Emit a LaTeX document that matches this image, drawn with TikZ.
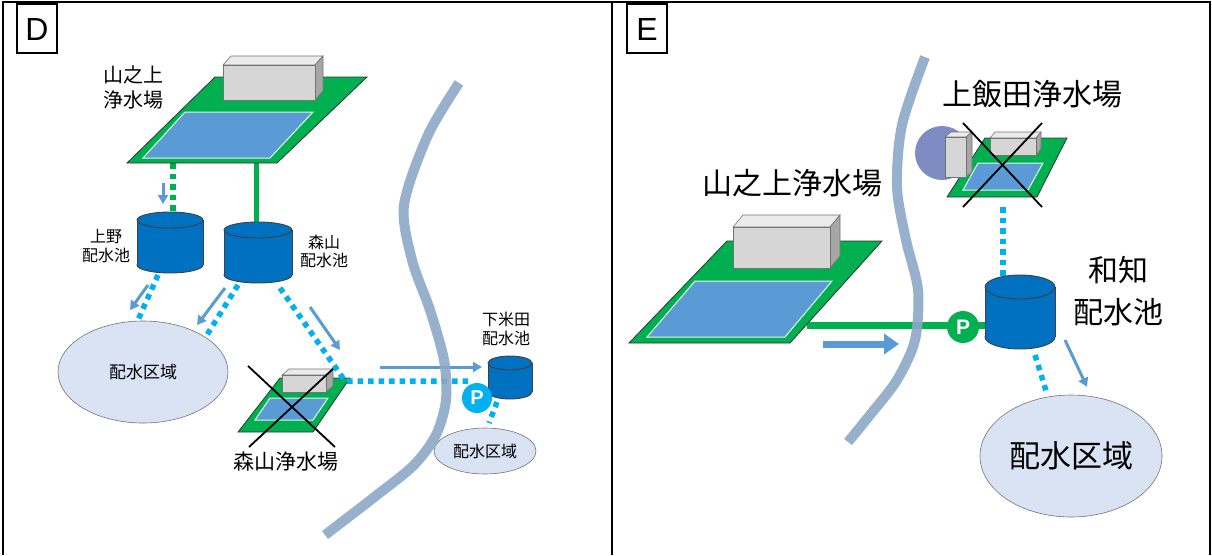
\documentclass[tikz,border=0pt]{standalone}
\usepackage{fontspec}
\setmainfont{Liberation Sans}
\newfontfamily\jp{Noto Sans CJK JP}
\usetikzlibrary{arrows.meta,shapes.geometric}

\definecolor{plantgreen}{RGB}{0,176,80}
\definecolor{poolblue}{RGB}{91,155,213}
\definecolor{tankblue}{RGB}{0,112,192}
\definecolor{pipecyan}{RGB}{0,176,240}
\definecolor{flowblue}{RGB}{91,155,213}
\definecolor{areafill}{RGB}{218,227,243}
\definecolor{river}{RGB}{140,168,200}
\definecolor{hillblue}{RGB}{125,140,195}

\tikzset{
  frameline/.style={line width=2pt},
  tagbox/.style={line width=1.2pt},
  plantedge/.style={draw=black!80, line width=0.8pt, fill=plantgreen},
  pooledge/.style={draw=green!15, line width=1pt, fill=poolblue},
  boxline/.style={draw=black!55, line width=0.6pt},
  tankline/.style={draw=black!75, line width=0.9pt, fill=tankblue},
  pipe/.style={pipecyan, line width=5.5pt, dash pattern=on 5.5pt off 5pt},
  gpipe/.style={plantgreen, line width=5.5pt, dash pattern=on 5.5pt off 5pt},
  main/.style={plantgreen, line width=5pt},
  flow/.style={flowblue, line width=3pt, -{Triangle[length=9pt,width=10pt]}},
  bigflow/.style={flowblue, line width=7pt, -{Triangle[length=15pt,width=20pt]}},
  area/.style={ellipse, draw=black!55, line width=0.6pt, fill=areafill, inner sep=0pt},
  cross/.style={line width=1.8pt, black},
  stream/.style={river, line width=10pt, opacity=.9},
  pump/.style={circle, inner sep=0pt, text=white, font=\bfseries},
  lbl/.style={align=center, inner sep=0pt},
}

% tank: (centre x, top y)(rx : ry : height)
\def\tank(#1,#2)(#3:#4:#5){%
  \draw[tankline] (#1,#2+#5) ellipse (#3 and #4);
  \fill[tankblue] (#1-#3,#2) rectangle (#1+#3,#2+#5);
  \draw[tankline] (#1-#3,#2) -- (#1-#3,#2+#5) (#1+#3,#2) -- (#1+#3,#2+#5);
  \draw[tankline] (#1,#2) ellipse (#3 and #4);
}
% building: (front left, front top)(front right, front bottom)(depth x, depth up)
\def\housing(#1,#2)(#3,#4)(#5,#6){%
  \draw[boxline, fill=black!8] (#1,#2) -- (#1+#5,#2-#6) -- (#3+#5,#2-#6) -- (#3,#2) -- cycle;
  \draw[boxline, fill=black!35] (#3,#2) -- (#3+#5,#2-#6) -- (#3+#5,#4-#6) -- (#3,#4) -- cycle;
  \draw[boxline, fill=black!16] (#1,#2) rectangle (#3,#4);
}

\begin{document}
\begin{tikzpicture}[x=1pt,y=-1pt]
  \useasboundingbox (0,0) rectangle (1212,555);

  %%%%% FRAME %%%%%
  \draw[frameline] (3,555) -- (3,2) -- (1210,2) -- (1210,555);
  \draw[frameline] (612,2) -- (612,555);
  \draw[tagbox] (17,4) rectangle (57,53);
  \node[font=\fontsize{32}{32}\selectfont] (tagD) at (37,29) {D};
  \draw[tagbox] (627,4) rectangle (667,53);
  \node[font=\fontsize{32}{32}\selectfont] (tagE) at (647,29) {E};

  %%%%% D %%%%%
  \coordinate (yamaD) at (173,163);
  \coordinate (yamaDb) at (256,163);
  \coordinate (uenoTop) at (173,212);
  \coordinate (moriTop) at (256,225);
  \coordinate (uenoBot) at (158,275);
  \coordinate (moriBotL) at (238,285);
  \coordinate (moriBotR) at (280,288);
  \coordinate (bend) at (345,381);
  \coordinate (areaLa) at (138,320);
  \coordinate (areaLb) at (205,338);
  \coordinate (areaRa) at (489,423);

  \draw[gpipe] (yamaD) -- (uenoTop);
  \draw[main] (yamaDb) -- (moriTop);

  % yamanoue plant
  \draw[plantedge] (127,163) -- (277,163) -- (367,77) -- (215,77) -- cycle;
  \draw[pooledge] (143,158) -- (270,158) -- (313,112) -- (185,112) -- cycle;
  \housing(223,65)(315,100)(8,9)
  \node[lbl, font=\jp\fontsize{20}{25}\selectfont] (yamaDlbl) at (133,87) {山之上\\浄水場};

  % reservoirs
  \tank(170,220)(33:8:45)
  \tank(258,230)(34:8:45)
  \node[lbl, font=\jp\fontsize{16}{19}\selectfont] (uenoLbl) at (106,246) {上野\\配水池};
  \node[lbl, font=\jp\fontsize{16}{18}\selectfont] (moriLbl) at (324,251) {森山\\配水池};

  % areas
  \node[area, minimum width=170pt, minimum height=102pt, font=\jp\fontsize{17}{17}\selectfont] (areaL) at (143,372) {配水区域};
  \node[area, minimum width=102pt, minimum height=46pt, font=\jp\fontsize{16}{16}\selectfont] (areaR) at (485,451) {配水区域};

  % moriyama plant (closed)
  \draw[plantedge] (238,432) -- (313,432) -- (350,378) -- (280,378) -- cycle;
  \draw[pooledge] (255,420) -- (313,420) -- (328,398) -- (270,398) -- cycle;
  \housing(282,375)(326,392)(7,6)
  \draw[cross] (248,366) -- (335,447);
  \draw[cross] (335,367) -- (249,447);
  \node[lbl, font=\jp\fontsize{21}{21}\selectfont] (moriPlant) at (286,462) {森山浄水場};

  % shimoyoneda
  \tank(510,363)(22:7:29)
  \node[lbl, font=\jp\fontsize{16}{18.5}\selectfont] (shimoLbl) at (506,329) {下米田\\配水池};

  \draw[pipe] (uenoBot) -- (areaLa);
  \draw[pipe] (moriBotL) -- (areaLb);
  \draw[pipe] (moriBotR) -- (bend) -- (470,381);
  \draw[pipe] (497,402) -- (areaRa);
  \node[pump, fill=pipecyan, minimum size=30pt, font=\fontsize{20}{20}\selectfont\bfseries] (pD) at (477,398) {P};

  \draw[flow] (163,183) -- (163,204);
  \draw[flow] (148,285) -- (130,310);
  \draw[flow] (225,288) -- (197,325);
  \draw[flow] (310,307) -- (340,350);
  \draw[flow] (380,367) -- (482,367);

  % river
  \draw[stream] plot[smooth] coordinates {(459,83) (428,135) (404,205) (412,260) (430,310) (444,360) (446,400) (436,435) (414,465) (377,495) (325,535)};

  %%%%% E %%%%%
  % kami-iida plant (closed)
  \fill[hillblue] (942,153) circle (27);
  \draw[plantedge] (947,197) -- (1037,197) -- (1067,138) -- (985,138) -- cycle;
  \draw[pooledge] (963,190) -- (1028,190) -- (1043,163) -- (978,163) -- cycle;
  \housing(990,138)(1036,155)(5,6)
  \housing(945,137)(966,177)(6,5)
  \draw[cross] (963,123) -- (1042,207);
  \draw[cross] (1042,123) -- (963,207);
  \node[lbl, font=\jp\fontsize{30}{30}\selectfont] (iidaLbl) at (1032,94) {上飯田浄水場};

  % yamanoue plant
  \coordinate (yamaE) at (807,325);
  \coordinate (wachiL) at (986,325);
  \draw[main, line width=7pt] (yamaE) -- (wachiL);
  \draw[plantedge] (629,343) -- (790,343) -- (882,241) -- (727,241) -- cycle;
  \draw[pooledge] (647,337) -- (785,337) -- (832,281) -- (695,281) -- cycle;
  \housing(733,227)(830,268)(10,12)
  \node[lbl, font=\jp\fontsize{30}{30}\selectfont] (yamaElbl) at (792,183) {山之上浄水場};

  % wachi reservoir
  \coordinate (iidaBot) at (1003,207);
  \coordinate (wachiTop) at (1003,278);
  \draw[pipe] (iidaBot) -- (wachiTop);
  \tank(1020,287)(35:12:50)
  \node[lbl, font=\jp\fontsize{30}{42}\selectfont] (wachiLbl) at (1118,291) {和知\\配水池};
  \node[pump, fill=plantgreen, minimum size=32pt, font=\fontsize{21}{21}\selectfont\bfseries] (pE) at (963,327) {P};

  \node[area, minimum width=182pt, minimum height=122pt, font=\jp\fontsize{31}{31}\selectfont] (areaE) at (1071,456) {配水区域};
  \coordinate (wachiBot) at (1035,355);
  \coordinate (areaEa) at (1047,394);
  \draw[pipe] (wachiBot) -- (areaEa);
  \draw[flow] (1065,340) -- (1087,387);

  % river
  \draw[stream] plot[smooth] coordinates {(925,57) (902,125) (897,187) (906,240) (918,290) (915,340) (897,380) (870,415) (848,442)};
  \draw[bigflow] (823,344) -- (899,344);
\end{tikzpicture}
\end{document}
